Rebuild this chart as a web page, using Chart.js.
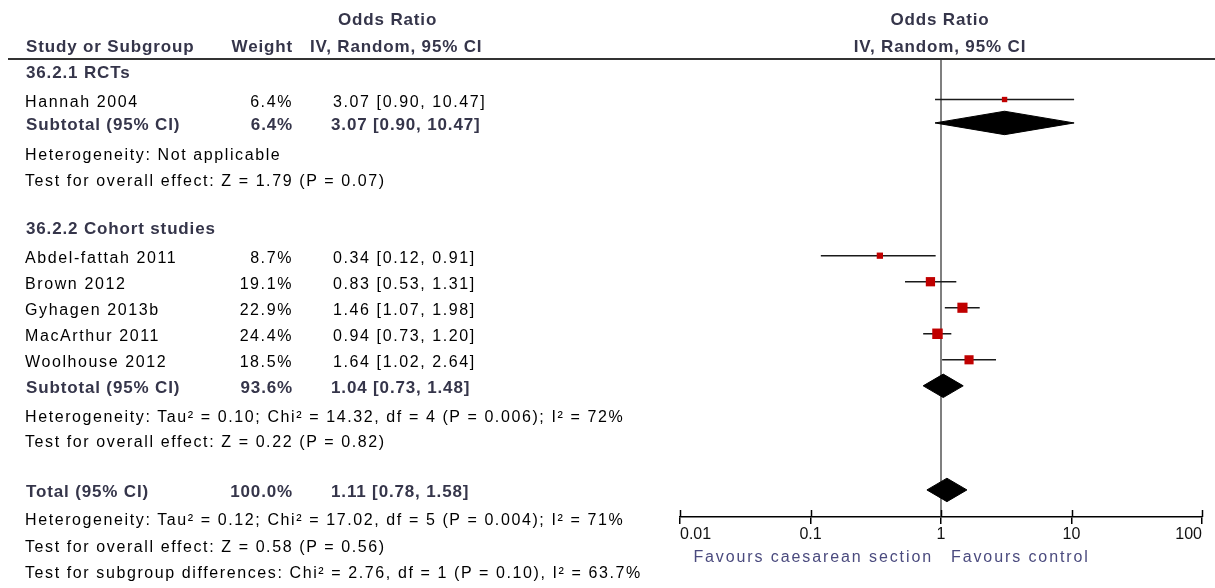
<!DOCTYPE html>
<html>
<head>
<meta charset="utf-8">
<script src="https://cdn.jsdelivr.net/npm/chart.js@4.4.0/dist/chart.umd.min.js"></script>
<style>
  html, body { margin: 0; padding: 0; background: #fff; }
  #wrap { position: relative; width: 1215px; height: 588px; overflow: hidden;
          font-family: "Liberation Sans", Arial, sans-serif; font-size: 16px; color: #000; }
  #chart { position: absolute; left: 0; top: 0; }
  .t { position: absolute; white-space: nowrap; line-height: 18px; letter-spacing: 1.6px; }
  .b { font-weight: bold; font-size: 17px; letter-spacing: 0.85px; color: #35354a; }
  .c { transform: translateX(-50%); }
  .fav { color: #4a4a7e; letter-spacing: 1.9px; }
  #hline { position: absolute; left: 8px; right: 0; top: 58px; height: 2px; background: #333; }
</style>
</head>
<body>
<div id="wrap">
  <canvas id="chart" width="1215" height="588"></canvas>
  <div id="hline"></div>
  <div id="labels"></div>
</div>
<script>
// individual studies
const studies = ['Hannah 2004', 'Abdel-fattah 2011', 'Brown 2012', 'Gyhagen 2013b', 'MacArthur 2011', 'Woolhouse 2012'];
const studyRows = [1, 7, 8, 9, 10, 11];
const weights = [6.4, 8.7, 19.1, 22.9, 24.4, 18.5];
const oddsRatios = [3.07, 0.34, 0.83, 1.46, 0.94, 1.64];
const ciLower = [0.90, 0.12, 0.53, 1.07, 0.73, 1.02];
const ciUpper = [10.47, 0.91, 1.31, 1.98, 1.20, 2.64];

// pooled estimates (diamonds)
const pooledNames = ['Subtotal (95% CI)', 'Subtotal (95% CI)', 'Total (95% CI)'];
const pooledRows = [1.9, 12, 16];
const pooledWeights = [6.4, 93.6, 100.0];
const pooledOR = [3.07, 1.04, 1.11];
const pooledLower = [0.90, 0.73, 0.78];
const pooledUpper = [10.47, 1.48, 1.58];

// x axis
const tickValues = [0.01, 0.1, 1, 10, 100];
const tickLabels = ['0.01', '0.1', '1', '10', '100'];

const Y_MIN = -0.557, Y_MAX = 17.04;
const DIAMOND_HALF = 0.45;
const FONT = '"Liberation Sans", Arial, sans-serif';

const fmtCI = (m, l, u) => `${m.toFixed(2)} [${l.toFixed(2)}, ${u.toFixed(2)}]`;

const datasets = [];

// squares (first = drawn on top)
datasets.push({
  data: studies.map((s, i) => ({ x: oddsRatios[i], y: studyRows[i] })),
  pointStyle: 'rect',
  pointRadius: weights.map(w => 1.5 * Math.sqrt(w)),
  backgroundColor: '#c00000',
  borderWidth: 0,
  showLine: false
});

// diamonds
pooledOR.forEach((m, i) => {
  const r = pooledRows[i];
  datasets.push({
    data: [
      { x: pooledLower[i], y: r },
      { x: m, y: r - DIAMOND_HALF },
      { x: pooledUpper[i], y: r },
      { x: m, y: r + DIAMOND_HALF },
      { x: pooledLower[i], y: r }
    ],
    showLine: true,
    fill: 'shape',
    backgroundColor: '#000',
    borderColor: '#000',
    borderWidth: 1,
    pointRadius: 0,
    tension: 0
  });
});

// confidence interval lines
studies.forEach((s, i) => {
  datasets.push({
    data: [{ x: ciLower[i], y: studyRows[i] }, { x: ciUpper[i], y: studyRows[i] }],
    showLine: true,
    borderColor: '#1a1a1a',
    borderWidth: 1.5,
    pointRadius: 0
  });
});

// line of no effect
datasets.push({
  data: [{ x: 1, y: Y_MIN }, { x: 1, y: Y_MAX }],
  showLine: true,
  borderColor: '#555',
  borderWidth: 1.5,
  pointRadius: 0
});

// tick marks also go a little above the axis
const upTicks = {
  id: 'upTicks',
  afterDraw(chart) {
    const xs = chart.scales.x, ctx = chart.ctx, b = chart.chartArea.bottom;
    ctx.save();
    ctx.strokeStyle = '#000';
    ctx.lineWidth = 1.5;
    tickValues.forEach(v => {
      const px = Math.round(xs.getPixelForValue(v)) + 0.5;
      ctx.beginPath();
      ctx.moveTo(px, b - 7);
      ctx.lineTo(px, b);
      ctx.stroke();
    });
    ctx.restore();
  }
};

const chart = new Chart(document.getElementById('chart'), {
  type: 'scatter',
  data: { datasets },
  options: {
    responsive: false,
    animation: false,
    events: [],
    layout: { padding: { left: 680, right: 13, top: 59, bottom: 0 } },
    plugins: { legend: { display: false }, tooltip: { enabled: false } },
    scales: {
      x: {
        type: 'logarithmic',
        min: 0.01,
        max: 100,
        afterBuildTicks: s => { s.ticks = tickValues.map(v => ({ value: v })); },
        afterFit: s => { s.height = 71; },
        ticks: {
          align: 'inner',
          padding: 1,
          color: '#111',
          font: { family: FONT, size: 16 },
          callback: (v) => tickLabels[tickValues.indexOf(v)] ?? ''
        },
        grid: { drawOnChartArea: false, drawTicks: true, tickLength: 7, color: '#000', lineWidth: 1.5 },
        border: { display: true, color: '#000', width: 1.5 }
      },
      y: { type: 'linear', reverse: true, min: Y_MIN, max: Y_MAX, display: false }
    }
  },
  plugins: [upTicks]
});

// table text on the left, rows placed with the chart's own y scale
const ys = chart.scales.y;
const rowTop = r => ys.getPixelForValue(r) + 2.5 - 9;
const parts = [];
const add = (txt, x, top, cls = '', align = 'left') => {
  if (align === 'right') {
    parts.push(`<div class="t ${cls}" style="right:${1215 - x}px;top:${top}px">${txt}</div>`);
  } else if (align === 'center') {
    parts.push(`<div class="t c ${cls}" style="left:${x}px;top:${top}px">${txt}</div>`);
  } else {
    parts.push(`<div class="t ${cls}" style="left:${x}px;top:${top}px">${txt}</div>`);
  }
};

// headers
add('Odds Ratio', 338, 11, 'b');
add('Study or Subgroup', 26, 38, 'b');
add('Weight', 293, 38, 'b', 'right');
add('IV, Random, 95% CI', 310, 38, 'b');
add('Odds Ratio', 940, 11, 'b', 'center');
add('IV, Random, 95% CI', 940, 38, 'b', 'center');

add('36.2.1 RCTs', 26, 64, 'b');
add('36.2.2 Cohort studies', 26, 220, 'b');

studies.forEach((s, i) => {
  const top = rowTop(studyRows[i]);
  add(s, 25, top);
  add(weights[i].toFixed(1) + '%', 293, top, '', 'right');
  add(fmtCI(oddsRatios[i], ciLower[i], ciUpper[i]), 333, top);
});

pooledNames.forEach((s, i) => {
  const top = rowTop(pooledRows[i]);
  add(s, 26, top, 'b');
  add(pooledWeights[i].toFixed(1) + '%', 293, top, 'b', 'right');
  add(fmtCI(pooledOR[i], pooledLower[i], pooledUpper[i]), 331, top, 'b');
});

add('Heterogeneity: Not applicable', 25, 146);
add('Test for overall effect: Z = 1.79 (P = 0.07)', 25, 172);
add('Heterogeneity: Tau² = 0.10; Chi² = 14.32, df = 4 (P = 0.006); I² = 72%', 25, 408);
add('Test for overall effect: Z = 0.22 (P = 0.82)', 25, 433);
add('Heterogeneity: Tau² = 0.12; Chi² = 17.02, df = 5 (P = 0.004); I² = 71%', 25, 511);
add('Test for overall effect: Z = 0.58 (P = 0.56)', 25, 538);
add('Test for subgroup differences: Chi² = 2.76, df = 1 (P = 0.10), I² = 63.7%', 25, 564);

// favours labels either side of the line of no effect
const px1 = chart.scales.x.getPixelForValue(1);
add('Favours caesarean section', Math.round(px1 - 8), 548, 'fav', 'right');
add('Favours control', Math.round(px1 + 10), 548, 'fav');

document.getElementById('labels').innerHTML = parts.join('');
</script>
</body>
</html>
